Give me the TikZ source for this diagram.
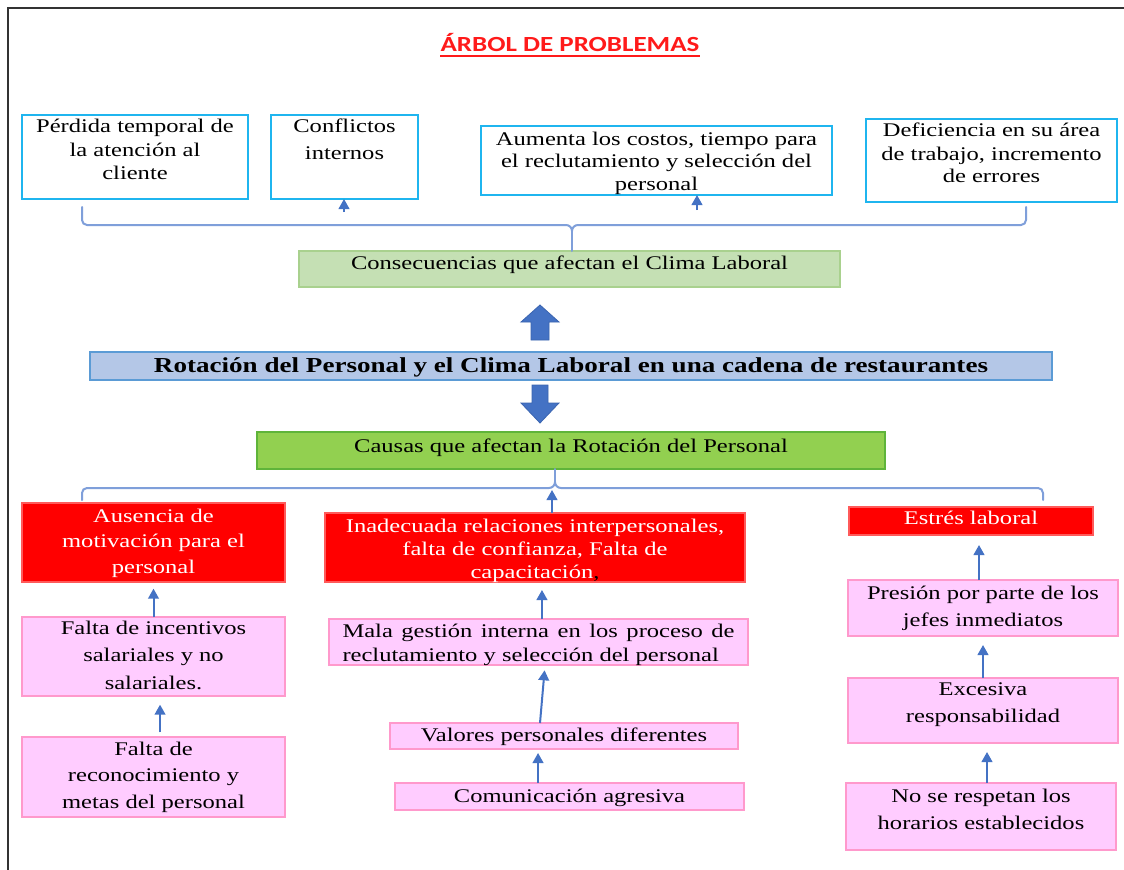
\documentclass[tikz,border=0pt]{standalone}
\usepackage{fontspec}
\setmainfont{Liberation Serif}[FakeStretch=1.27]
\newfontfamily\calib{Carlito}[FakeStretch=1.25]
\usetikzlibrary{arrows.meta}
\newdimen\pxu \pxu=0.75pt
\newcommand\bxc[5]{\parbox[c][#2\pxu][t]{#1\pxu}{\fontsize{14.5pt}{18pt}\selectfont\baselineskip=#4\pxu\centering\rule{0pt}{#3\pxu}#5\par}}
\definecolor{cyanb}{HTML}{1FB5EF}
\definecolor{bracec}{HTML}{7F9FDA}
\definecolor{arrc}{HTML}{4472C4}
\definecolor{arrd}{HTML}{3A64B0}
\definecolor{mainf}{HTML}{B4C7E7}
\definecolor{maind}{HTML}{5B9BD5}
\definecolor{conf}{HTML}{C5E0B4}
\definecolor{cond}{HTML}{A9D18E}
\definecolor{cauf}{HTML}{92D050}
\definecolor{caud}{HTML}{5FB43A}
\definecolor{redf}{HTML}{FF0000}
\definecolor{redd}{HTML}{FF5A5A}
\definecolor{pinkf}{HTML}{FFCCFF}
\definecolor{pinkd}{HTML}{FF99CC}
\definecolor{titr}{HTML}{FF1A1A}
\definecolor{framec}{HTML}{333333}
\tikzset{
  bx/.style={inner sep=0pt, outer sep=0pt, anchor=north west, line width=1.2pt},
  topb/.style={bx, draw=cyanb, fill=white},
  pinkb/.style={bx, draw=pinkd, fill=pinkf},
  redb/.style={bx, draw=redd, fill=redf, text=white},
  conb/.style={bx, draw=cond, fill=conf},
  caub/.style={bx, draw=caud, fill=cauf},
  mainb/.style={bx, draw=maind, fill=mainf},
  arr/.style={draw=arrc, line width=1.5pt, -{Triangle[length=7.5pt,width=8pt]}},
  brace/.style={draw=bracec, line width=1.5pt, line cap=round},
  blockarrow/.style={fill=arrc, draw=arrd, line width=0.6pt}
}
\begin{document}
\begin{tikzpicture}[x=0.75pt,y=-0.75pt]
\useasboundingbox (0,0) rectangle (1124,870);
\fill[white] (0,0) rectangle (1124,870);
\draw[framec, line width=1.5pt] (8,870) -- (8,8) -- (1124,8);

% title
\node[font=\calib\bfseries\fontsize{16.2pt}{19pt}\selectfont, text=titr, inner sep=0pt, anchor=base] (T) at (570,52) {ÁRBOL DE PROBLEMAS};
\draw[titr, line width=1.6pt] ([yshift=-3pt]T.base west) -- ([yshift=-3pt]T.base east);

% consequences
\node[topb] (B1) at (22,115) {\bxc{226}{84}{18}{23.5}{Pérdida temporal de\\la atención al\\cliente}};
\node[topb] (B2) at (271,115) {\bxc{147}{84}{18}{27}{Conflictos\\internos}};
\node[topb] (B3) at (481,126) {\bxc{351}{69}{19}{22.5}{Aumenta los costos, tiempo para\\el reclutamiento y selección del\\personal}};
\node[topb] (B4) at (866,119) {\bxc{251}{83}{18}{23}{Deficiencia en su área\\de trabajo, incremento\\de errores}};

\coordinate (a1) at (344,212);
\coordinate (a2) at (697,210);
\draw[arr] (a1) -- (a1 |- B2.south);
\draw[arr] (a2) -- (a2 |- B3.south);

\node[conb] (CON) at (299,251) {\bxc{541}{36}{18}{20}{Consecuencias que afectan el Clima Laboral}};

% upper brace
\coordinate (ubL) at (82,207);
\coordinate (ubR) at (1026,207);
\coordinate (ubC) at (572,231);
\draw[brace] (ubL) -- (82,220) to[out=-90,in=180] (87,225) -- (566,225) to[out=0,in=90] (ubC)
  to[out=90,in=180] (578,225) -- (1021,225) to[out=0,in=-90] (1026,220) -- (ubR);
\draw[brace] (ubC) -- (ubC |- CON.north);

% central problem
\node[mainb] (MAIN) at (90,352) {\bxc{962}{28}{20}{20}{{\bfseries\fontsize{16pt}{19pt}\selectfont Rotación del Personal y el Clima Laboral en una cadena de restaurantes}}};

\fill[blockarrow] (531,340) -- (531,322) -- (521,322) -- (540,305) -- (559,322) -- (549,322) -- (549,340) -- cycle;
\fill[blockarrow] (532,385) -- (548,385) -- (548,403) -- (559,403) -- (540,423) -- (521,403) -- (532,403) -- cycle;

\node[caub] (CAU) at (257,432) {\bxc{628}{37}{20}{20}{Causas que afectan la Rotación del Personal}};

% lower brace
\coordinate (lbL) at (82,500);
\coordinate (lbR) at (1043,500);
\coordinate (lbC) at (555,482);
\draw[brace] (lbL) -- (82,493) to[out=90,in=180] (87,488) -- (549,488) to[out=0,in=-90] (lbC)
  to[out=-90,in=180] (561,488) -- (1038,488) to[out=0,in=90] (1043,493) -- (lbR);
\draw[brace] (lbC) -- (lbC |- CAU.south);

% causes
\node[redb] (R1) at (22,503) {\bxc{263}{79}{19}{25.5}{Ausencia de\\motivación para el\\personal}};
\node[redb] (R2) at (325,513) {\bxc{420}{69}{19}{23}{Inadecuada relaciones interpersonales,\\falta de confianza, Falta de\\capacitación\textcolor{black}{,}}};
\node[redb] (R3) at (849,507) {\bxc{244}{28}{17}{20}{Estrés laboral}};

\coordinate (lb) at (552,490);
\draw[arr] (lb |- R2.north) -- (lb);

\node[pinkb] (P1) at (22,617) {\bxc{263}{79}{17}{27.5}{Falta de incentivos\\salariales y no\\salariales.}};
\node[pinkb] (P2) at (22,737) {\bxc{263}{80}{18}{26.5}{Falta de\\reconocimiento y\\metas del personal}};

\node[pinkb] (M1) at (329,619) {\bxc{419}{46}{18}{23}{\parbox[t]{392\pxu}{Mala gestión interna en los proceso de\linebreak reclutamiento y selección del personal}}};
\node[pinkb] (M2) at (390,723) {\bxc{348}{26}{18}{20}{Valores personales diferentes}};
\node[pinkb] (M3) at (395,783) {\bxc{349}{27}{19}{20}{Comunicación agresiva}};

\node[pinkb] (S1) at (848,580) {\bxc{270}{56}{19}{27}{Presión por parte de los\\jefes inmediatos}};
\node[pinkb] (S2) at (848,678) {\bxc{270}{65}{17}{27}{Excesiva\\responsabilidad}};
\node[pinkb] (S3) at (846,783) {\bxc{270}{67}{19}{27}{No se respetan los\\horarios establecidos}};

% arrows
\draw[arr, shorten >=5pt] (P1.north) -- (P1.north |- R1.south);
\draw[arr, shorten >=6.5pt, shorten <=3.5pt] ([xshift=4.9pt]P2.north) -- ([xshift=4.9pt]P2.north |- P1.south);
\draw[arr, shorten >=6pt] ([xshift=2.6pt]M1.north) -- ([xshift=2.6pt]M1.north |- R2.south);
\draw[arr, shorten >=4pt] ([xshift=-18pt]M2.north) -- ([xshift=4.9pt]M1.south);
\draw[arr, shorten >=3pt] ([xshift=-23.6pt]M3.north) -- ([xshift=-23.6pt]M3.north |- M2.south);
\draw[arr, shorten >=7.5pt] ([xshift=-3pt]S1.north) -- ([xshift=-3pt]S1.north |- R3.south);
\draw[arr, shorten >=6.75pt] (S2.north) -- (S2.north |- S1.south);
\draw[arr, shorten >=6.75pt] ([xshift=4.5pt]S3.north) -- ([xshift=4.5pt]S3.north |- S2.south);
\end{tikzpicture}
\end{document}
